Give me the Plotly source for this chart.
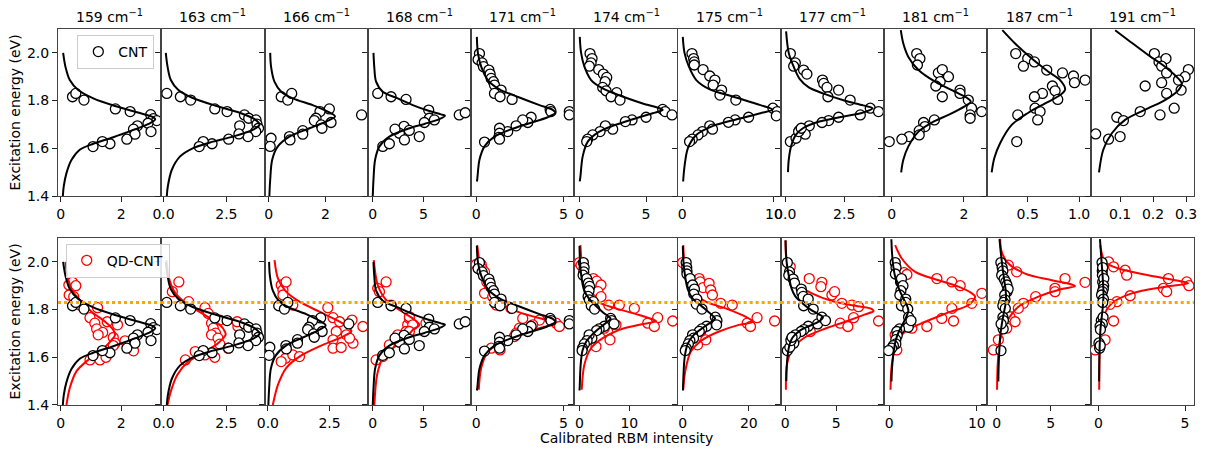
import plotly.graph_objects as go
from plotly.subplots import make_subplots

FONT = "DejaVu Sans"

# ---------------- data ----------------
wavenumbers = [159, 163, 166, 168, 171, 174, 175, 177, 181, 187, 191]

# CNT measured points (intensity, energy) per RBM column
cnt_I = [
    [0.39, 0.50, 0.77, 1.81, 2.30, 2.98, 3.07, 3.18, 2.89, 2.54, 2.41, 2.46, 2.99, 2.19, 1.63, 1.38, 1.07],
    [0.13, 0.67, 1.08, 2.04, 2.53, 3.22, 3.39, 3.68, 3.72, 3.78, 3.67, 3.36, 3.03, 3.0, 2.59, 1.93, 1.58, 1.42],
    [0.08, 0.05, 0.44, 0.67, 0.81, 2.14, 1.81, 1.67, 1.61, 2.2, 1.85, 1.88, 1.2, 1.2, 0.73, 0.75, 3.28],
    [0.49, 1.81, 3.29, 3.09, 3.61, 2.63, 0.99, 1.64, 4.6, 5.53, 5.59, 6.09, 5.1, 8.55, 9.14, 3.13, 2.2],
    [0.19, 0.11, 0.34, 0.42, 0.73, 0.80, 0.86, 0.99, 1.05, 1.43, 1.05, 1.37, 2.06, 4.24, 4.29, 3.15, 2.96, 2.67,
     2.29, 1.81, 1.34, 1.34, 1.30, 1.34, 0.48, 5.34, 5.34],
    [0.80, 0.95, 0.88, 0.75, 1.45, 1.80, 2.05, 1.93, 1.75, 2.00, 2.80, 2.38, 3.05, 6.25, 6.43, 6.95, 5.00, 3.95,
     3.45, 2.50, 1.95, 1.55, 1.00, 0.62, 0.55],
    [1.07, 1.25, 1.32, 1.32, 2.28, 3.01, 3.57, 3.38, 4.30, 4.12, 5.85, 9.89, 10.37, 10.26, 7.24, 5.77, 5.04, 3.01,
     3.31, 2.21, 1.73, 1.10, 0.81],
    [0.22, 0.43, 0.36, 0.78, 0.92, 1.58, 1.63, 1.77, 1.81, 2.26, 2.75, 3.18, 3.60, 3.95, 2.26, 1.84, 1.56, 1.02,
     0.85, 0.60, 0.22, 0.46, 0.57, 0.68],
    [0.69, 0.78, 0.71, 1.29, 1.40, 1.57, 1.34, 1.22, 1.40, 1.89, 1.89, 2.12, 2.21, 2.17, 2.17, 2.49, 1.18, 0.88,
     0.92, 0.76, 0.76, 0.48, 0.28, -0.07],
    [0.383, 0.500, 0.565, 0.458, 0.685, 0.838, 0.945, 0.955, 1.058, 0.740, 0.766, 0.643, 0.565, 0.792, 0.571,
     0.620, 0.597, 0.403, 0.393],
    [0.204, 0.218, 0.239, 0.226, 0.241, 0.307, 0.297, 0.277, 0.226, 0.176, 0.285, 0.241, 0.161, 0.264, 0.221,
     0.090, 0.110, 0.026, 0.065, 0.100],
]
cnt_E = [
    [1.816, 1.830, 1.802, 1.765, 1.754, 1.741, 1.724, 1.716, 1.705, 1.694, 1.680, 1.659, 1.670, 1.638, 1.619, 1.628, 1.607],
    [1.830, 1.816, 1.802, 1.765, 1.754, 1.740, 1.726, 1.719, 1.701, 1.684, 1.670, 1.649, 1.694, 1.660, 1.638, 1.619, 1.628, 1.607],
    [1.642, 1.608, 1.816, 1.802, 1.830, 1.765, 1.754, 1.726, 1.716, 1.708, 1.698, 1.684, 1.674, 1.659, 1.649, 1.635, 1.740],
    [1.830, 1.816, 1.805, 1.692, 1.675, 1.663, 1.608, 1.619, 1.649, 1.760, 1.726, 1.719, 1.708, 1.740, 1.749, 1.635, 1.680],
    [1.997, 1.972, 1.958, 1.942, 1.928, 1.911, 1.893, 1.879, 1.865, 1.844, 1.830, 1.816, 1.805, 1.763, 1.754, 1.730,
     1.708, 1.719, 1.694, 1.670, 1.684, 1.663, 1.646, 1.638, 1.626, 1.754, 1.740],
    [1.997, 1.976, 1.958, 1.944, 1.930, 1.911, 1.897, 1.879, 1.855, 1.841, 1.833, 1.816, 1.802, 1.763, 1.754, 1.740,
     1.730, 1.719, 1.712, 1.680, 1.694, 1.670, 1.656, 1.638, 1.628],
    [1.997, 1.976, 1.962, 1.949, 1.930, 1.903, 1.886, 1.865, 1.844, 1.823, 1.802, 1.768, 1.754, 1.736, 1.730, 1.719,
     1.709, 1.694, 1.680, 1.670, 1.656, 1.638, 1.628],
    [1.997, 1.958, 1.944, 1.928, 1.911, 1.886, 1.872, 1.855, 1.816, 1.844, 1.802, 1.740, 1.768, 1.754, 1.730, 1.716,
     1.708, 1.694, 1.659, 1.675, 1.628, 1.642, 1.670, 1.684],
    [1.997, 1.976, 1.949, 1.916, 1.930, 1.900, 1.879, 1.861, 1.816, 1.844, 1.830, 1.802, 1.768, 1.740, 1.726, 1.754,
     1.719, 1.708, 1.691, 1.674, 1.656, 1.649, 1.638, 1.628],
    [1.997, 1.976, 1.962, 1.944, 1.928, 1.916, 1.903, 1.875, 1.886, 1.861, 1.841, 1.830, 1.816, 1.805, 1.768, 1.754,
     1.719, 1.740, 1.628],
    [1.997, 1.962, 1.976, 1.944, 1.916, 1.930, 1.900, 1.886, 1.875, 1.861, 1.844, 1.830, 1.754, 1.768, 1.740, 1.730,
     1.716, 1.660, 1.638, 1.649],
]

# CNT fitted profiles
cnt_fit_I = [
    [0.08, 0.16, 0.30, 0.58, 1.08, 1.80, 2.52, 3.02, 3.13, 2.91, 2.41, 1.74, 1.08, 0.63, 0.36, 0.19, 0.10, 0.07],
    [0.09, 0.16, 0.29, 0.59, 1.12, 2.11, 3.03, 3.62, 3.82, 3.55, 2.76, 1.97, 1.18, 0.66, 0.33, 0.17, 0.13],
    [0.05, 0.08, 0.20, 0.44, 0.85, 1.55, 2.08, 2.34, 2.02, 1.44, 0.73, 0.32, 0.12, 0.05, 0.02],
    [0.07, 0.15, 0.33, 0.99, 2.30, 3.95, 5.59, 6.74, 7.14, 6.58, 5.10, 3.62, 1.64, 0.66, 0.23, 0.07, 0.0],
    [0.04, 0.10, 0.29, 0.67, 1.34, 2.48, 3.63, 4.39, 4.54, 4.10, 3.05, 1.91, 1.05, 0.48, 0.19, 0.06, 0.04],
    [0.03, 0.13, 0.38, 0.88, 1.75, 3.13, 4.75, 6.00, 6.25, 5.50, 4.00, 2.50, 1.38, 0.63, 0.25, 0.08, 0.03],
    [0.07, 0.26, 0.74, 1.54, 3.01, 5.59, 8.53, 9.82, 8.53, 5.96, 3.38, 1.54, 0.63, 0.26, 0.11],
    [0.04, 0.15, 0.36, 0.62, 1.00, 1.60, 2.50, 3.30, 3.70, 3.30, 2.30, 1.45, 0.75, 0.45, 0.25, 0.15, 0.12],
    [0.25, 0.32, 0.46, 0.74, 1.20, 1.75, 2.07, 2.19, 2.03, 1.57, 1.11, 0.74, 0.46, 0.32, 0.26],
    [0.253, 0.377, 0.539, 0.701, 0.815, 0.864, 0.815, 0.669, 0.506, 0.344, 0.231, 0.175, 0.149],
    [0.085, 0.125, 0.186, 0.236, 0.271, 0.287, 0.277, 0.236, 0.186, 0.115, 0.075, 0.049, 0.036],
]
cnt_fit_E = [
    [2.00, 1.94, 1.886, 1.844, 1.809, 1.777, 1.751, 1.733, 1.722, 1.702, 1.677, 1.646, 1.619, 1.594, 1.552, 1.496, 1.44, 1.40],
    [2.00, 1.942, 1.886, 1.844, 1.813, 1.777, 1.749, 1.722, 1.699, 1.677, 1.649, 1.628, 1.601, 1.566, 1.51, 1.44, 1.40],
    [2.00, 1.942, 1.879, 1.837, 1.809, 1.781, 1.754, 1.733, 1.712, 1.684, 1.649, 1.608, 1.552, 1.468, 1.40],
    [2.00, 1.94, 1.879, 1.837, 1.812, 1.781, 1.756, 1.742, 1.736, 1.722, 1.702, 1.684, 1.649, 1.608, 1.552, 1.468, 1.40],
    [2.067, 2.00, 1.942, 1.886, 1.847, 1.813, 1.781, 1.761, 1.749, 1.730, 1.705, 1.677, 1.649, 1.608, 1.552, 1.468, 1.461],
    [2.067, 2.00, 1.942, 1.886, 1.851, 1.819, 1.788, 1.768, 1.761, 1.747, 1.722, 1.694, 1.666, 1.628, 1.566, 1.482, 1.461],
    [2.067, 2.00, 1.942, 1.886, 1.847, 1.816, 1.781, 1.763, 1.747, 1.722, 1.694, 1.656, 1.601, 1.524, 1.461],
    [2.09, 2.00, 1.942, 1.89, 1.855, 1.83, 1.80, 1.78, 1.768, 1.75, 1.73, 1.712, 1.684, 1.656, 1.608, 1.55, 1.50],
    [2.095, 2.039, 1.983, 1.928, 1.879, 1.837, 1.813, 1.795, 1.777, 1.740, 1.708, 1.670, 1.608, 1.552, 1.499],
    [2.095, 2.039, 1.976, 1.921, 1.886, 1.847, 1.823, 1.788, 1.749, 1.698, 1.621, 1.559, 1.499],
    [2.095, 2.053, 1.990, 1.942, 1.900, 1.872, 1.844, 1.802, 1.768, 1.719, 1.663, 1.594, 1.499],
]

# QD-CNT measured points
qd_I = [
    [0.27, 0.39, 0.50, 0.28, 0.43, 0.63, 1.22, 0.97, 1.13, 1.19, 1.39, 1.24, 1.54, 1.88, 1.74, 1.80, 1.74, 2.13, 2.41,
     0.97, 1.30, 1.50],
    [0.35, 0.61, 1.00, 1.65, 1.78, 2.24, 1.91, 1.98, 2.07, 1.91, 2.17, 2.24, 2.57, 2.96, 2.93, 0.87, 1.26, 1.65, 2.04],
    [0.54, 0.61, 0.74, 0.61, 1.01, 2.43, 2.64, 2.91, 2.77, 2.64, 3.18, 3.41, 3.45, 3.31, 2.64, 2.97, 3.85, 0.72, 1.01,
     1.28, 0.54],
    [0.49, 1.32, 0.66, 1.81, 3.45, 3.62, 3.29, 2.47, 3.13, 1.64, 0.33, 0.99, 3.62, 3.95, 5.26, 3.62, 3.29],
    [0.00, 0.29, 0.34, 0.48, 0.61, 0.76, 0.48, 0.95, 1.15, 1.43, 2.00, 2.67, 3.63, 4.58, 4.77, 3.24, 2.48, 2.29, 2.19,
     1.43, 0.86, 1.37],
    [0.00, 0.33, 2.80, 3.47, 4.33, 3.73, 4.33, 5.87, 8.00, 11.0, 15.67, 13.67, 15.0, 18.67, 7.33, 5.67, 5.00, 6.13, 3.33],
    [0.0, 5.0, 5.3, 6.2, 8.0, 8.5, 9.0, 11.5, 15.0, 22.5, 19.5, 20.5, 27.8, 5.5, 7.0, 4.5],
    [0.50, 2.36, 3.60, 3.50, 4.58, 4.84, 5.55, 6.53, 7.18, 9.14, 6.70, 5.39, 6.14, 2.46],
    [1.70, 2.02, 5.44, 7.15, 8.10, 10.57, 9.43, 7.15, 6.00, 7.34, 4.30, 2.59, 0.68, 0.87],
    [1.08, 1.85, 6.33, 8.18, 5.40, 5.40, 3.61, 2.47, 2.00, 1.23, 1.70, 0.93, 0.15, -0.31],
    [0.58, 0.87, 1.54, 1.63, 4.04, 5.10, 5.23, 3.75, 3.94, 1.83, 1.06, 0.67, 0.87, 0.38, -0.19],
]
qd_E = [
    [1.903, 1.914, 1.900, 1.861, 1.854, 1.819, 1.808, 1.766, 1.743, 1.719, 1.704, 1.694, 1.749, 1.736, 1.683, 1.659,
     1.649, 1.669, 1.627, 1.589, 1.589, 1.600],
    [1.875, 1.916, 1.833, 1.808, 1.784, 1.756, 1.743, 1.722, 1.701, 1.694, 1.680, 1.655, 1.638, 1.729, 1.749, 1.589,
     1.624, 1.610, 1.600],
    [1.903, 1.882, 1.916, 1.861, 1.819, 1.808, 1.766, 1.749, 1.708, 1.673, 1.694, 1.756, 1.659, 1.680, 1.638, 1.641,
     1.729, 1.596, 1.610, 1.603, 1.582],
    [1.889, 1.916, 1.875, 1.819, 1.736, 1.763, 1.708, 1.694, 1.680, 1.652, 1.589, 1.603, 1.770, 1.736, 1.743, 1.708,
     1.673],
    [1.989, 1.989, 1.972, 1.958, 1.916, 1.896, 1.868, 1.854, 1.819, 1.833, 1.805, 1.763, 1.756, 1.743, 1.729, 1.736,
     1.722, 1.701, 1.687, 1.659, 1.638, 1.631],
    [1.997, 1.986, 1.930, 1.919, 1.903, 1.875, 1.854, 1.819, 1.819, 1.805, 1.766, 1.743, 1.729, 1.752, 1.736, 1.708,
     1.722, 1.673, 1.645],
    [1.997, 1.930, 1.916, 1.892, 1.910, 1.882, 1.861, 1.826, 1.819, 1.766, 1.743, 1.729, 1.752, 1.708, 1.673, 1.652],
    [1.979, 1.930, 1.914, 1.896, 1.861, 1.875, 1.826, 1.819, 1.812, 1.752, 1.766, 1.743, 1.729, 1.708],
    [1.955, 1.947, 1.930, 1.916, 1.900, 1.868, 1.826, 1.805, 1.763, 1.752, 1.729, 1.722, 1.694, 1.631],
    [1.986, 1.958, 1.930, 1.914, 1.889, 1.875, 1.854, 1.826, 1.805, 1.770, 1.749, 1.722, 1.673, 1.631],
    [2.000, 1.979, 1.965, 1.944, 1.930, 1.916, 1.900, 1.889, 1.875, 1.858, 1.833, 1.822, 1.752, 1.673, 1.631],
]

# QD-CNT fitted profiles
qd_fit_I = [
    [0.16, 0.24, 0.41, 0.69, 1.02, 1.47, 1.74, 1.80, 1.69, 1.36, 0.91, 0.52, 0.30, 0.19],
    [0.12, 0.22, 0.48, 0.99, 1.65, 2.24, 2.44, 2.47, 2.17, 1.65, 0.99, 0.55, 0.29, 0.16],
    [0.27, 0.41, 0.74, 1.28, 2.09, 2.91, 3.31, 3.38, 3.04, 2.23, 1.28, 0.74, 0.41, 0.20],
    [0.10, 0.49, 1.32, 2.63, 3.95, 4.60, 3.95, 3.29, 1.97, 0.99, 0.43, 0.16],
    [0.06, 0.19, 0.38, 0.76, 1.34, 2.48, 4.01, 4.54, 3.63, 2.48, 1.34, 0.67, 0.29, 0.15],
    [0.20, 0.47, 1.00, 2.00, 3.67, 7.33, 12.0, 15.0, 15.33, 12.0, 8.00, 4.67, 2.33, 1.00, 0.47],
    [0.2, 0.5, 1.2, 3.0, 7.0, 13.0, 19.0, 21.2, 17.0, 11.0, 6.0, 2.5, 0.8, 0.2],
    [0.05, 0.18, 1.00, 1.32, 2.62, 4.58, 6.86, 8.33, 8.65, 7.83, 5.88, 3.60, 1.80, 0.67, 0.18, 0.08],
    [0.68, 1.44, 2.97, 5.63, 7.91, 9.43, 9.81, 9.05, 6.77, 4.11, 1.83, 0.76, 0.30, 0.15],
    [0.31, 0.46, 1.08, 2.62, 5.09, 6.94, 7.25, 6.02, 3.86, 2.01, 0.93, 0.31, 0.09, 0.03],
    [0.10, 0.38, 1.15, 2.88, 4.23, 5.19, 3.85, 1.92, 0.77, 0.29, 0.10, 0.04],
]
qd_fit_E = [
    [2.00, 1.930, 1.875, 1.833, 1.791, 1.749, 1.715, 1.694, 1.673, 1.631, 1.589, 1.541, 1.471, 1.40],
    [2.007, 1.930, 1.868, 1.819, 1.777, 1.736, 1.708, 1.694, 1.659, 1.624, 1.582, 1.527, 1.457, 1.40],
    [2.007, 1.930, 1.875, 1.833, 1.791, 1.749, 1.722, 1.708, 1.687, 1.652, 1.603, 1.555, 1.485, 1.40],
    [2.007, 1.903, 1.840, 1.798, 1.763, 1.736, 1.715, 1.680, 1.638, 1.596, 1.527, 1.40],
    [2.07, 2.00, 1.930, 1.868, 1.826, 1.788, 1.756, 1.743, 1.722, 1.694, 1.659, 1.624, 1.555, 1.464],
    [2.07, 2.00, 1.930, 1.875, 1.833, 1.805, 1.777, 1.756, 1.752, 1.736, 1.715, 1.680, 1.638, 1.569, 1.464],
    [2.07, 2.00, 1.930, 1.875, 1.833, 1.805, 1.770, 1.749, 1.736, 1.708, 1.673, 1.624, 1.541, 1.464],
    [2.09, 2.00, 1.930, 1.903, 1.868, 1.836, 1.816, 1.805, 1.794, 1.780, 1.749, 1.715, 1.680, 1.631, 1.569, 1.464],
    [2.07, 2.014, 1.958, 1.923, 1.896, 1.868, 1.854, 1.819, 1.788, 1.749, 1.708, 1.652, 1.569, 1.464],
    [2.097, 2.042, 1.993, 1.951, 1.923, 1.905, 1.898, 1.886, 1.854, 1.812, 1.749, 1.673, 1.569, 1.464],
    [2.07, 2.00, 1.972, 1.944, 1.926, 1.910, 1.896, 1.868, 1.826, 1.770, 1.666, 1.464],
]

# axis ranges and ticks
energy_range = [1.4, 2.1]
energy_ticks = [1.4, 1.6, 1.8, 2.0]
energy_ticktext = ["1.4", "1.6", "1.8", "2.0"]
reference_energy = 1.83

top_ranges = [[-0.09, 3.33], [-0.09, 4.02], [-0.15, 3.5], [-0.49, 9.72], [-0.29, 5.63], [-0.375, 7.37],
              [-0.49, 10.76], [-0.18, 4.19], [-0.21, 2.65], [0.108, 1.113], [0.011, 0.324]]
top_tickvals = [[0, 2], [0, 2.5], [0, 2], [0, 5], [0, 5], [0, 5], [0, 10], [0, 2.5], [0, 2], [0.5, 1.0],
                [0.1, 0.2, 0.3]]
top_ticktext = [["0", "2"], ["0.0", "2.5"], ["0", "2"], ["0", "5"], ["0", "5"], ["0", "5"], ["0", "10"],
                ["0.0", "2.5"], ["0", "2"], ["0.5", "1.0"], ["0.1", "0.2", "0.3"]]

bot_ranges = [[-0.09, 3.33], [-0.09, 4.02], [-0.135, 4.05], [-0.49, 9.72], [-0.29, 5.63], [-1.0, 19.66],
              [-1.5, 29.7], [-0.41, 9.69], [-0.57, 11.21], [-0.86, 8.71], [-0.45, 5.52]]
bot_tickvals = [[0, 2], [0, 2.5], [0, 2.5], [0, 5], [0, 5], [0, 10], [0, 20], [0, 5], [0, 10], [0, 5], [0, 5]]
bot_ticktext = [["0", "2"], ["0.0", "2.5"], ["0.0", "2.5"], ["0", "5"], ["0", "5"], ["0", "10"], ["0", "20"],
                ["0", "5"], ["0", "10"], ["0", "5"], ["0", "5"]]

# ---------------- figure ----------------
NCOL = len(wavenumbers)
fig = make_subplots(rows=2, cols=NCOL, horizontal_spacing=0, vertical_spacing=0.1117)

def marker(color):
    return dict(symbol="circle", size=10, color="white", line=dict(width=1.3, color=color))

for c in range(NCOL):
    # top row: CNT
    fig.add_trace(go.Scatter(x=cnt_I[c], y=cnt_E[c], mode="markers", marker=marker("black"),
                             name="CNT", showlegend=(c == 0), legend="legend"), row=1, col=c + 1)
    fig.add_trace(go.Scatter(x=cnt_fit_I[c], y=cnt_fit_E[c], mode="lines",
                             line=dict(color="black", width=2, shape="spline", smoothing=0.9),
                             showlegend=False, hoverinfo="skip"), row=1, col=c + 1)
    # bottom row: QD-CNT + CNT
    fig.add_trace(go.Scatter(x=qd_I[c], y=qd_E[c], mode="markers", marker=marker("red"),
                             name="QD-CNT", showlegend=(c == 0), legend="legend2"), row=2, col=c + 1)
    fig.add_trace(go.Scatter(x=qd_fit_I[c], y=qd_fit_E[c], mode="lines",
                             line=dict(color="red", width=2, shape="spline", smoothing=0.9),
                             showlegend=False, hoverinfo="skip"), row=2, col=c + 1)
    fig.add_trace(go.Scatter(x=cnt_I[c], y=cnt_E[c], mode="markers", marker=marker("black"),
                             showlegend=False), row=2, col=c + 1)
    fig.add_trace(go.Scatter(x=cnt_fit_I[c], y=cnt_fit_E[c], mode="lines",
                             line=dict(color="black", width=2, shape="spline", smoothing=0.9),
                             showlegend=False, hoverinfo="skip"), row=2, col=c + 1)

    fig.add_hline(y=reference_energy, row=2, col=c + 1, layer="above",
                  line=dict(color="orange", width=3, dash="dot"))

axis_common = dict(ticks="outside", ticklen=5, tickwidth=1, tickcolor="#222222",
                   showline=True, mirror=True, linecolor="#444444", linewidth=1,
                   showgrid=False, zeroline=False,
                   tickfont=dict(family=FONT, size=14, color="black"))

for c in range(NCOL):
    fig.update_xaxes(range=top_ranges[c], tickvals=top_tickvals[c], ticktext=top_ticktext[c],
                     row=1, col=c + 1, **axis_common)
    fig.update_xaxes(range=bot_ranges[c], tickvals=bot_tickvals[c], ticktext=bot_ticktext[c],
                     row=2, col=c + 1, **axis_common)
    for r in (1, 2):
        fig.update_yaxes(range=energy_range, tickvals=energy_ticks, ticktext=energy_ticktext,
                         showticklabels=(c == 0), row=r, col=c + 1, **axis_common)

annotations = []
for c in range(NCOL):
    xr = "x domain" if c == 0 else f"x{c + 1} domain"
    annotations.append(dict(text=f"{wavenumbers[c]} cm<sup>\u22121</sup>", xref=xr,
                            yref="paper", x=0.5, y=1, yanchor="middle", xanchor="center", yshift=13,
                            showarrow=False, font=dict(family=FONT, size=14, color="black")))
for yc in (0.7779, 0.2221):
    annotations.append(dict(text="Excitation energy (eV)", xref="paper", yref="paper", x=0, y=yc,
                            xanchor="center", yanchor="middle", xshift=-43, textangle=-90,
                            showarrow=False, font=dict(family=FONT, size=14, color="black")))
annotations.append(dict(text="Calibrated RBM intensity", xref="paper", yref="paper", x=0.5, y=0,
                        xanchor="center", yanchor="middle", yshift=-33, showarrow=False,
                        font=dict(family=FONT, size=14, color="black")))

legend_style = dict(xanchor="left", yanchor="top", bordercolor="#cccccc", borderwidth=1,
                    bgcolor="rgba(255,255,255,0.85)", font=dict(family=FONT, size=14, color="black"))

# the page body adds an 8 px offset, so the figure is sized to fit the 1209x453 window
fig.update_layout(
    width=1201, height=445,
    margin=dict(l=50, r=13, t=21, b=48),
    plot_bgcolor="white", paper_bgcolor="white",
    font=dict(family=FONT, size=14, color="black"),
    annotations=annotations,
    legend=dict(x=0.017, y=0.984, **legend_style),
    legend2=dict(x=0.0068, y=0.429, **legend_style),
)

fig.write_html("out.html")
